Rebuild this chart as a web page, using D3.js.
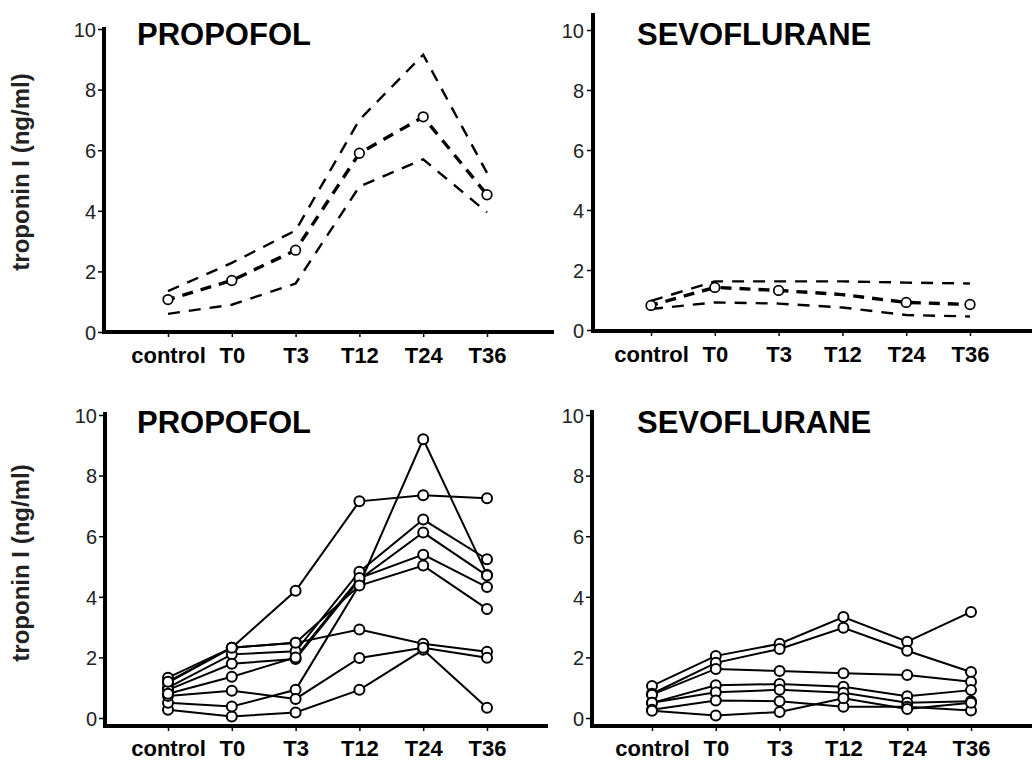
<!DOCTYPE html>
<html>
<head>
<meta charset="utf-8">
<script src="https://cdn.jsdelivr.net/npm/d3@7"></script>
<style>
  body { margin: 0; background: #fff; }
  svg { display: block; font-family: "Liberation Sans", Arial, sans-serif; }
</style>
</head>
<body>
<svg id="chart" width="1032" height="763"></svg>
<script>
// time points on the x axis
const categories = ["control", "T0", "T3", "T12", "T24", "T36"];
const yTicks = [0, 2, 4, 6, 8, 10];

// upper panels: mean with upper / lower bound (ng/ml)
const propofolMean  = [1.07, 1.70, 2.70, 5.90, 7.10, 4.53];
const propofolUpper = [1.35, 2.28, 3.35, 7.00, 9.15, 5.25];
const propofolLower = [0.60, 0.90, 1.60, 4.80, 5.70, 3.95];

const sevoMean  = [0.82, 1.42, 1.32, 1.18, 0.92, 0.85];
const sevoUpper = [0.97, 1.62, 1.62, 1.62, 1.58, 1.55];
const sevoLower = [0.70, 0.92, 0.88, 0.75, 0.50, 0.45];

// lower panels: individual patients
const propofolPatients = [
  [1.17, 2.32, 4.20, 7.15, 7.35, 7.25],
  [1.33, 2.32, 2.48, 2.92, 2.45, 2.19],
  [0.27, 0.05, 0.18, 0.93, 2.25, 0.34],
  [0.50, 0.38, 0.93, 4.40, 9.20, 4.73],
  [0.73, 0.90, 0.63, 1.98, 2.32, 1.99],
  [1.00, 2.10, 2.20, 4.83, 6.55, 5.24],
  [0.93, 1.79, 1.95, 4.57, 6.12, 4.70],
  [0.80, 1.36, 2.00, 4.62, 5.39, 4.32],
  [1.20, 2.32, 2.48, 4.37, 5.03, 3.60]
];

const sevoPatients = [
  [1.06, 2.05, 2.45, 3.33, 2.52, 3.50],
  [0.80, 1.82, 2.28, 2.98, 2.22, 1.52],
  [0.77, 1.62, 1.55, 1.48, 1.42, 1.20],
  [0.50, 1.08, 1.12, 1.03, 0.72, 0.92],
  [0.50, 0.85, 0.93, 0.83, 0.50, 0.55],
  [0.27, 0.58, 0.55, 0.37, 0.37, 0.25],
  [0.24, 0.08, 0.20, 0.65, 0.30, 0.50]
];

const svg = d3.select("#chart");

const panels = [
  { title: "PROPOFOL", x0: 104, xr: [168, 487], xEnd: 554, y0: 332, y10: 29, axisY: 332, yTop: 27,
    tickLabelX: 96, labelY: 363, titleX: 137, titleY: 45,
    mean: propofolMean, upper: propofolUpper, lower: propofolLower },
  { title: "SEVOFLURANE", x0: 593, xr: [651, 970], xEnd: 1032, y0: 330, y10: 30, axisY: 331, yTop: 13,
    tickLabelX: 584, labelY: 362, titleX: 637, titleY: 45,
    mean: sevoMean, upper: sevoUpper, lower: sevoLower, skip: ["T12"] },
  { title: "PROPOFOL", x0: 105, xr: [168, 487], xEnd: 548, y0: 718, y10: 415, axisY: 726, yTop: 412,
    tickLabelX: 97, labelY: 756, titleX: 137, titleY: 433,
    patients: propofolPatients },
  { title: "SEVOFLURANE", x0: 592, xr: [652, 971], xEnd: 1032, y0: 718, y10: 415, axisY: 726, yTop: 410,
    tickLabelX: 584, labelY: 756, titleX: 637, titleY: 433,
    patients: sevoPatients }
];

panels.forEach(function (p) {
  const g = svg.append("g");
  const x = d3.scalePoint().domain(categories).range(p.xr);
  const y = d3.scaleLinear().domain([0, 10]).range([p.y0, p.y10]);
  const line = d3.line()
    .x(function (d, i) { return x(categories[i]); })
    .y(function (d) { return y(d); });

  // y axis
  const yAxis = d3.axisLeft(y).tickValues(yTicks).tickSize(6).tickPadding(3);
  const ya = g.append("g").attr("transform", "translate(" + p.x0 + ",0)").call(yAxis);
  ya.select(".domain").remove();
  ya.selectAll(".tick line").attr("stroke", "#000").attr("stroke-width", 1.5);
  ya.selectAll(".tick text")
    .attr("x", p.tickLabelX - p.x0)
    .attr("dy", "0.36em")
    .style("font-size", "20px")
    .style("fill", "#222");
  g.append("line")
    .attr("x1", p.x0).attr("x2", p.x0)
    .attr("y1", p.yTop).attr("y2", p.axisY + 2)
    .attr("stroke", "#000").attr("stroke-width", 4);

  // x axis
  const xAxis = d3.axisBottom(x).tickSize(5).tickPadding(0);
  const xa = g.append("g").attr("transform", "translate(0," + p.axisY + ")").call(xAxis);
  xa.select(".domain").remove();
  xa.selectAll(".tick line").attr("stroke", "#000").attr("stroke-width", 1.5);
  xa.selectAll(".tick text")
    .attr("y", p.labelY - p.axisY)
    .attr("dy", 0)
    .style("font-size", "22px")
    .style("font-weight", "bold")
    .style("fill", "#000");
  g.append("line")
    .attr("x1", p.x0 - 2).attr("x2", p.xEnd)
    .attr("y1", p.axisY).attr("y2", p.axisY)
    .attr("stroke", "#000").attr("stroke-width", 4);

  // title
  g.append("text")
    .attr("x", p.titleX).attr("y", p.titleY)
    .style("font-size", "31px")
    .style("font-weight", "bold")
    .text(p.title);

  if (p.mean) {
    [p.upper, p.lower].forEach(function (s) {
      g.append("path").datum(s)
        .attr("d", line)
        .attr("fill", "none").attr("stroke", "#000")
        .attr("stroke-width", 2.4)
        .attr("stroke-dasharray", "12,9");
    });
    g.append("path").datum(p.mean)
      .attr("d", line)
      .attr("fill", "none").attr("stroke", "#000")
      .attr("stroke-width", 3.4)
      .attr("stroke-dasharray", "11,8")
      .attr("stroke-dashoffset", 4);
    const skip = p.skip || [];
    g.selectAll(".mean-pt")
      .data(p.mean.map(function (v, i) { return { cat: categories[i], v: v }; })
        .filter(function (d) { return skip.indexOf(d.cat) < 0; }))
      .enter().append("circle")
      .attr("cx", function (d) { return x(d.cat); })
      .attr("cy", function (d) { return y(d.v); })
      .attr("r", 4.8)
      .attr("fill", "#fff").attr("stroke", "#000").attr("stroke-width", 1.7);
  }

  if (p.patients) {
    g.selectAll(".pat")
      .data(p.patients)
      .enter().append("path")
      .attr("d", line)
      .attr("fill", "none").attr("stroke", "#000")
      .attr("stroke-width", 2);
    p.patients.forEach(function (s) {
      g.selectAll(null)
        .data(s)
        .enter().append("circle")
        .attr("cx", function (d, i) { return x(categories[i]); })
        .attr("cy", function (d) { return y(d); })
        .attr("r", 5)
        .attr("fill", "#fff").attr("stroke", "#000").attr("stroke-width", 2);
    });
  }
});

// shared y axis titles
[172, 563].forEach(function (cy) {
  svg.append("text")
    .attr("transform", "translate(29," + cy + ")rotate(-90)")
    .attr("text-anchor", "middle")
    .style("font-size", "24px")
    .style("font-weight", "bold")
    .style("fill", "#222")
    .text("troponin I (ng/ml)");
});
</script>
</body>
</html>
